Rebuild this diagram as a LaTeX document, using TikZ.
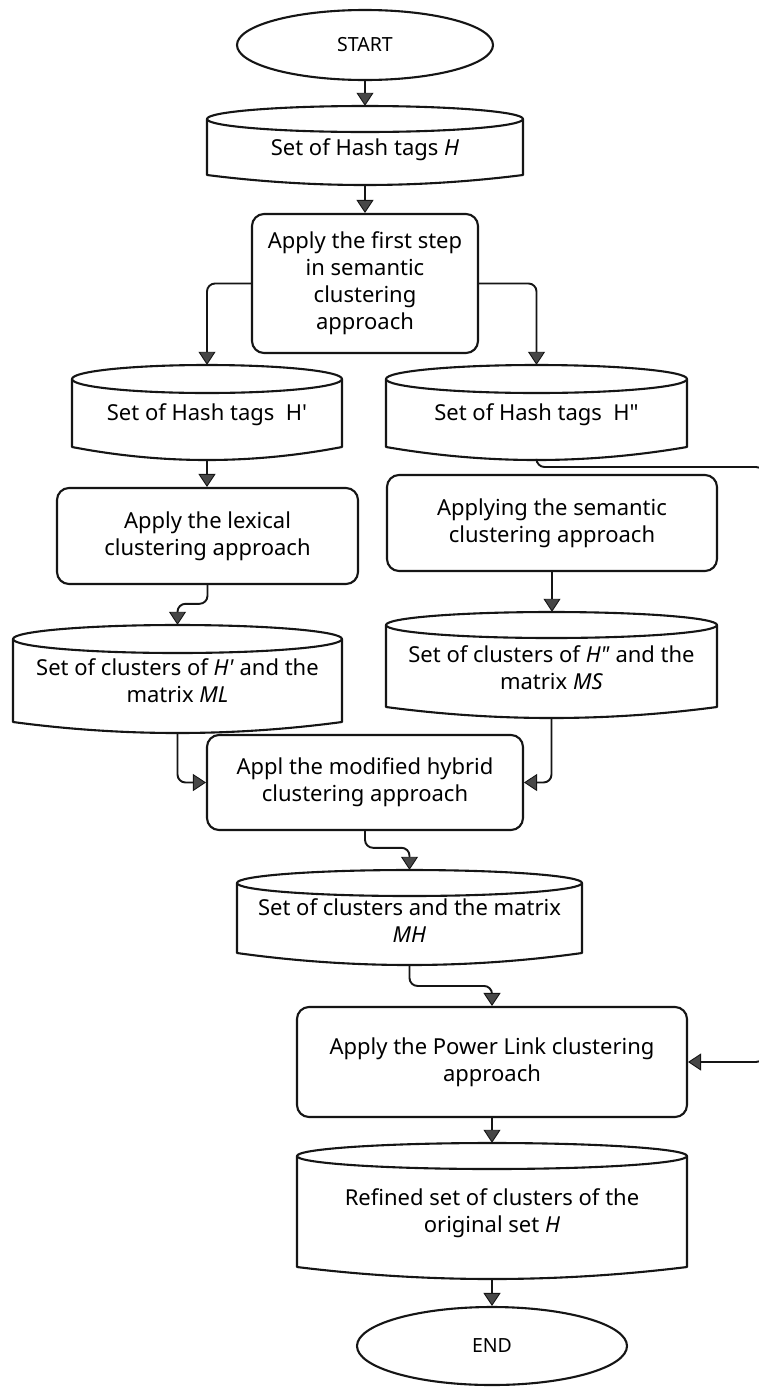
\documentclass[tikz,border=0pt]{standalone}
\usepackage{fontspec}
\setmainfont{Noto Sans}
\usetikzlibrary{arrows.meta,shapes.geometric,calc}
\definecolor{ink}{HTML}{151515}
\definecolor{tipgray}{HTML}{474747}

\tikzset{
  box/.style={draw=ink, line width=2.1pt, rounded corners=12pt, fill=white, align=center, inner sep=0pt},
  oval/.style={ellipse, draw=ink, line width=2.1pt, fill=white, inner sep=0pt,
               font=\fontsize{19.5}{22}\selectfont},
  drumframe/.style={inner sep=0pt},
  drumline/.style={draw=ink, line width=2.1pt, fill=white, line join=round},
  txt/.style={align=center, inner sep=0pt},
  flow/.style={draw=ink, line width=1.9pt, rounded corners=8pt,
               -{Triangle[width=17pt,length=13pt,fill=tipgray,line width=0.9pt]}},
}

% storage drum: name, left, top, right, bottom, cap radius, bottom bulge
\newcommand\drumshape[7]{%
  \pgfmathsetmacro\dcx{(#2+#4)/2}%
  \pgfmathsetmacro\drx{(#4-#2)/2}%
  \pgfmathsetmacro\dcy{#3+#6}%
  \pgfmathsetmacro\dbs{#5-#7}%
  \pgfmathsetmacro\dbc{#5+#7/3}%
  \pgfmathsetmacro\dql{#2+(#4-#2)/3}%
  \pgfmathsetmacro\dqr{#4-(#4-#2)/3}%
  \pgfmathsetmacro\dw{#4-#2}%
  \pgfmathsetmacro\dh{#5-#3}%
  \pgfmathsetmacro\dmy{(#3+#5)/2}%
  \path[drumline] (#2,\dcy) -- (#2,\dbs) .. controls (\dql,\dbc) and (\dqr,\dbc) .. (#4,\dbs) -- (#4,\dcy) -- cycle;
  \path[drumline] (\dcx,\dcy) ellipse [x radius=\drx, y radius=#6];
  \node[drumframe, minimum width=\dw pt, minimum height=\dh pt] (#1) at (\dcx,\dmy) {};
}

\begin{document}
\begin{tikzpicture}[x=1pt, y=-1pt, font=\fontsize{22}{27}\selectfont]
\fill[white] (0,0) rectangle (758,1387);
\useasboundingbox (0,0) rectangle (758,1387);

% terminals, processes and data stores
\node[oval, minimum width=256pt, minimum height=70pt] (start) at (365,45) {START};

\drumshape{hh}{207}{106}{523}{185}{13}{10}
\node[txt] (hhT) at (365,150) {Set of Hash tags \textit{H}};

\node[box, minimum width=226pt, minimum height=139pt] (first) at (365,283.5)
  {Apply the first step\\in semantic\\clustering\\approach};

\drumshape{hp}{72}{365}{342}{460}{14}{13}
\node[txt] (hpT) at (207,415) {Set of Hash tags\ \ H\textquotesingle};

\drumshape{hpp}{386}{365}{687}{460}{14}{13}
\node[txt] (hppT) at (536.5,415) {Set of Hash tags\ \ H\textquotedbl};

\node[box, minimum width=301pt, minimum height=96pt] (lex) at (207.5,536)
  {Apply the lexical\\clustering approach};

\node[box, minimum width=330pt, minimum height=96pt] (sem) at (552,523)
  {Applying the semantic\\clustering approach};

\drumshape{ml}{13}{625}{342}{733}{14}{11}
\node[txt] (mlT) at (177.5,681) {Set of clusters of \textit{H\textquotesingle} and the\\matrix \textit{ML}};

\drumshape{ms}{386}{612}{717}{718}{13}{11}
\node[txt] (msT) at (551.5,668) {Set of clusters of \textit{H\textquotedbl} and the\\matrix \textit{MS}};

\node[box, minimum width=316pt, minimum height=95pt] (hyb) at (365,782.5)
  {Appl the modified hybrid\\clustering approach};

\drumshape{mh}{237}{870}{582}{965}{13}{12}
\node[txt] (mhT) at (409.5,921) {Set of clusters and the matrix\\\textit{MH}};

\node[box, minimum width=390pt, minimum height=110pt] (pow) at (492,1062)
  {Apply the Power Link clustering\\approach};

\drumshape{ref}{297}{1143}{687}{1279}{13}{12}
\node[txt] (refT) at (492,1213.5) {Refined set of clusters of the\\original set \textit{H}};

\node[oval, minimum width=270pt, minimum height=78pt] (end) at (492,1346) {END};

% connectors
\draw[flow] (start.south) -- (hh.north);
\draw[flow] (hh.south) -- (first.north);
\draw[flow] (first.west) -| (hp.north);
\draw[flow] (first.east) -| (hpp.north);
\draw[flow] (hp.south) -- (hp.south |- lex.north);
\draw[flow] (lex.south) |- ([yshift=21pt]ml.north) -- (ml.north);
\draw[flow] (sem.south) -- (sem.south |- ms.north);
\draw[flow] (ml.south) |- (hyb.west);
\draw[flow] (ms.south) |- (hyb.east);
\draw[flow] (hyb.south) |- ([yshift=22pt]mh.north) -- (mh.north);
\draw[flow] (mh.south) |- ([yshift=20pt]pow.north) -- (pow.north);
\draw[flow] (pow.south) -- (ref.north);
\draw[flow] (ref.south) -- (end.north);
\coordinate (loop) at (764,467);
\draw[flow] (hpp.south) |- (loop) |- (pow.east);
\end{tikzpicture}
\end{document}
